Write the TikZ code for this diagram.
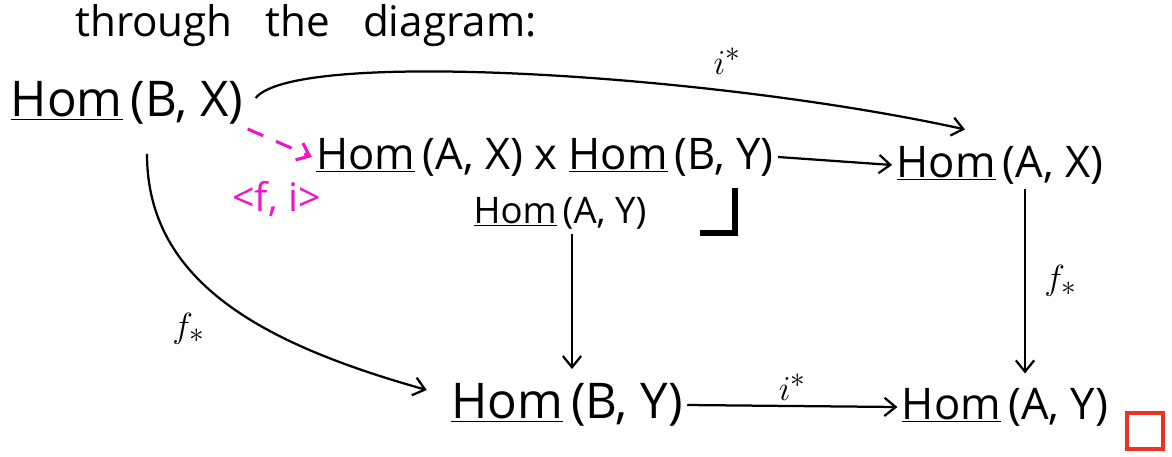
\documentclass[tikz,border=0pt]{standalone}
\usepackage{fontspec}
\setmainfont{Open Sans}
\usetikzlibrary{arrows.meta, positioning, calc}
\newcommand{\uhom}{\underline{Hom}\,}
\definecolor{penpink}{RGB}{240, 20, 200}
\definecolor{penred}{RGB}{235, 50, 35}

\begin{document}
\begin{tikzpicture}[x=0.025cm, y=-0.025cm,
    objnode/.style={font=\fontsize{35}{42}\selectfont, inner sep=3pt},
    midobj/.style={font=\fontsize{31}{36}\selectfont, inner sep=3pt},
    smallobj/.style={font=\fontsize{26}{30}\selectfont, inner sep=3pt},
    titlenode/.style={font=\fontsize{30}{36}\selectfont, anchor=base west, inner sep=0pt},
    maplabel/.style={font=\fontsize{30}{34}\selectfont, inner sep=1pt},
    maparrow/.style={-{Straight Barb[length=8pt, width=13pt]}, line width=1.6pt},
    pairarrow/.style={-{Straight Barb[length=8pt, width=13pt]}, line width=2.2pt,
        color=penpink, dash pattern=on 12pt off 10pt},
]
\useasboundingbox (0,0) rectangle (1172,456);

% ── HEADING ─────────────────────────────────────────────────────────────────
\node[titlenode] at (75, 36) (title) {through\ \ \ the\ \ \ diagram:};

% ── OBJECTS ─────────────────────────────────────────────────────────────────
\node[objnode]  at (127, 103)  (BX)   {\uhom(B, X)};
\node[midobj]   at (545, 157)  (prod) {\uhom(A, X) x \uhom(B, Y)};
\node[smallobj] at (560, 213)  (AYs)  {\uhom(A, Y)};
\node[midobj]   at (1000, 165) (AX)   {\uhom(A, X)};
\node[objnode]  at (567, 405)  (BY)   {\uhom(B, Y)};
\node[midobj]   at (1005, 407) (AY)   {\uhom(A, Y)};

% pullback corner
\coordinate (cornerA) at (700, 233);
\coordinate (cornerB) at (735, 233);
\coordinate (cornerC) at (735, 188);
\draw[line width=4pt] (cornerA) -- (cornerB) -- (cornerC);

% ── MAPS ────────────────────────────────────────────────────────────────────
\draw[maparrow] ($(BX.east)+(8,-5)$) .. controls +(40,-50) and +(-250,-55) .. ($(AX.north)+(-35,-12)$)
    node[maplabel, pos=0.72, above=10pt] (itop) {$i^{*}$};
\draw[maparrow] ($(BX.south)+(20,25)$) .. controls +(0,130) and +(-160,-45) .. ($(BY.west)+(-20,-15)$)
    node[maplabel, pos=0.62, left=42pt] (fleft) {$f_{*}$};
\draw[pairarrow] (BX.south east) -- (prod.west)
    node[maplabel, pos=0.45, below=26pt, text=penpink, font=\fontsize{28}{32}\selectfont] (pair) {<f, i>};
\draw[maparrow] (prod.east) -- (AX.west);
\draw[maparrow] ($(AYs.south)+(12,0)$) -- ($(BY.north)+(5,-10)$);
\draw[maparrow] ($(AX.south)+(25,0)$) -- ($(AY.north)+(20,-10)$)
    node[maplabel, midway, right=12pt] (fright) {$f_{*}$};
\draw[maparrow] (BY.east) -- (AY.west)
    node[maplabel, midway, above=2pt] (ibot) {$i^{*}$};

% end of proof
\node[draw=penred, line width=2.5pt, minimum size=0.9cm, inner sep=0pt] at (1145, 431) (qed) {};

\end{tikzpicture}
\end{document}
